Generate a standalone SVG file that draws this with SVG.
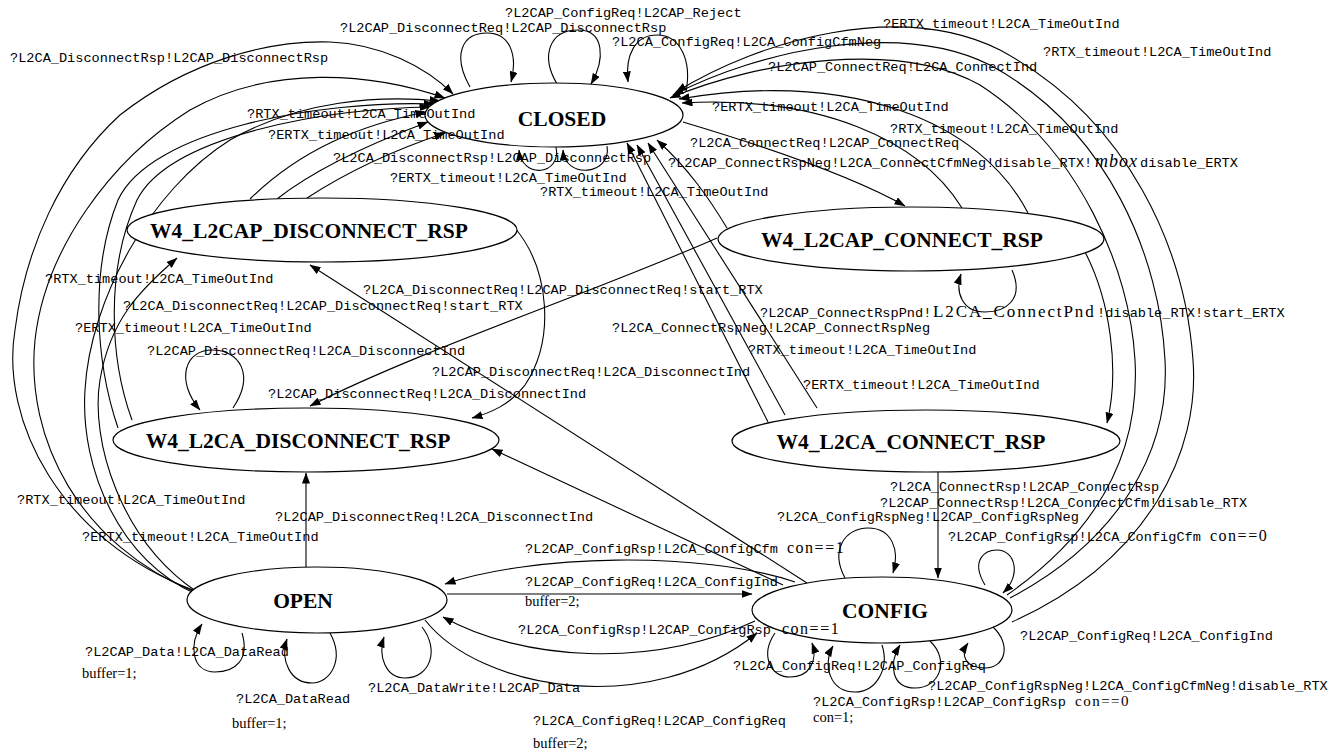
<svg xmlns="http://www.w3.org/2000/svg" width="1343" height="753" viewBox="0 0 1343 753">
<style>
.e{fill:none;stroke:#000;stroke-width:1.1}
.a{marker-end:url(#ah)}
.n ellipse{fill:#fff;stroke:#000;stroke-width:1.2}
.n text{font-family:"Liberation Serif",serif;font-weight:bold;font-size:21.5px;text-anchor:middle}
.l{font-family:"Liberation Mono",monospace;font-size:13.6px;fill:#000}
.s{font-family:"Liberation Serif",serif;font-size:14.5px;fill:#000}
.m{font-family:"Liberation Serif",serif;font-size:16px;letter-spacing:1.5px}
.p{font-family:"Liberation Serif",serif;font-size:17px;letter-spacing:1.9px}
.i{font-family:"Liberation Serif",serif;font-style:italic;font-size:18px;letter-spacing:1px}
</style>
<defs>
<marker id="ah" markerWidth="11" markerHeight="8" refX="10.5" refY="4" orient="auto" markerUnits="userSpaceOnUse"><path d="M0,0 L11,4 L0,8 z" fill="#000"/></marker>
</defs>
<rect width="1343" height="753" fill="#fff"/>
<g id="connectors">
<path class="e a" d="M193,590 C60,540 0,420 15,330 C25,250 60,170 120,115 C190,60 270,40 330,42 C380,44 425,66 453,94"/>
<path class="e a" d="M195,592 C80,545 25,440 35,340 C45,250 110,160 190,110 C270,65 370,72 445,98"/>
<path class="e a" d="M196,594 C120,560 80,470 85,390 C90,300 150,190 230,140 C300,100 380,95 440,101"/>
<path class="e a" d="M118,428 C95,360 90,270 118,200 C150,130 320,100 434,104"/>
<path class="e a" d="M132,420 C110,360 105,270 137,200 C170,135 330,108 430,107"/>
<path class="e a" d="M197,592 C120,540 90,440 100,380 C110,320 140,290 177,258"/>
<path class="e a" d="M250,199 C300,150 360,125 426,112"/>
<path class="e a" d="M277,199 C320,165 380,140 428,122"/>
<path class="e a" d="M307,198 C350,170 400,148 445,133"/>
<path class="e a" d="M470,87 C452,55 462,33 487,33 C510,33 518,55 511,82"/>
<path class="e a" d="M557,84 C540,55 550,30 578,30 C605,30 605,60 591,84"/>
<path class="e a" d="M686,92 C692,60 680,35 657,35 C635,35 625,55 628,82"/>
<path class="e a" d="M556,147 C562,175 522,180 519,150"/>
<path class="e a" d="M607,146 C612,175 565,180 563,150"/>
<path class="e a" d="M1012,622 C1150,560 1200,450 1193,360 C1185,250 1130,120 1000,50 C900,0 760,40 676,92"/>
<path class="e a" d="M1010,598 C1120,540 1170,450 1165,360 C1160,260 1110,130 990,65 C900,20 760,50 673,95"/>
<path class="e a" d="M1007,595 C1100,530 1140,450 1135,360 C1130,270 1080,150 980,85 C900,40 760,60 670,98"/>
<path class="e a" d="M683,122 C760,145 850,175 905,206"/>
<path class="e a" d="M962,208 C920,140 820,95 682,103"/>
<path class="e a" d="M1028,213 C980,120 850,70 679,99"/>
<path class="e a" d="M727,228 C710,200 690,170 657,140"/>
<path class="e a" d="M1085,252 C1110,300 1120,370 1107,423"/>
<path class="e a" d="M768,422 L627,143"/>
<path class="e a" d="M785,415 L637,145"/>
<path class="e a" d="M817,408 L648,143"/>
<path class="e a" d="M1012,270 C1025,300 1005,312 985,312 C962,312 955,292 961,274"/>
<path class="e a" d="M515,228 C550,270 555,340 525,385 C510,405 490,413 472,418"/>
<path class="e a" d="M717,238 C600,290 420,350 310,406"/>
<path class="e a" d="M807,583 L310,265"/>
<path class="e a" d="M783,585 L492,449"/>
<path class="e a" d="M233,408 C255,375 240,350 212,350 C185,350 175,380 200,410"/>
<path class="e a" d="M306,567 L306,473"/>
<path class="e a" d="M938,472 L938,578"/>
<path class="e a" d="M795,582 C700,550 530,555 445,584"/>
<path class="e a" d="M447,594 L752,594"/>
<path class="e a" d="M755,621 C650,670 520,660 443,617"/>
<path class="e a" d="M425,620 C480,690 650,720 757,633"/>
<path class="e a" d="M845,578 C830,550 845,528 868,528 C892,528 900,550 893,573"/>
<path class="e a" d="M985,585 C970,560 985,550 997,550 C1015,550 1022,575 1003,593"/>
<path class="e a" d="M993,627 C1012,645 1005,668 985,668 C965,668 960,655 968,643"/>
<path class="e a" d="M930,641 C950,660 940,688 915,688 C892,688 888,665 900,645"/>
<path class="e a" d="M775,633 C760,655 770,677 790,677 C810,677 818,660 812,643"/>
<path class="e a" d="M882,645 C890,670 875,692 855,692 C830,692 822,665 833,646"/>
<path class="e a" d="M242,633 C250,660 235,672 215,672 C192,672 188,645 202,624"/>
<path class="e a" d="M330,633 C345,660 330,683 312,683 C290,683 280,660 287,639"/>
<path class="e a" d="M422,627 C440,650 430,678 405,678 C385,678 378,655 384,637"/>
</g>
<g id="n_closed" class="n"><ellipse cx="554" cy="115" rx="129" ry="32"/><text x="562" y="126">CLOSED</text></g>
<g id="n_w4_l2cap_disconnect_rsp" class="n"><ellipse cx="322" cy="230" rx="195" ry="32"/><text x="309" y="238">W4_L2CAP_DISCONNECT_RSP</text></g>
<g id="n_w4_l2cap_connect_rsp" class="n"><ellipse cx="911" cy="239" rx="193" ry="32"/><text x="902" y="247">W4_L2CAP_CONNECT_RSP</text></g>
<g id="n_w4_l2ca_disconnect_rsp" class="n"><ellipse cx="306" cy="440" rx="193" ry="32"/><text x="298" y="448">W4_L2CA_DISCONNECT_RSP</text></g>
<g id="n_w4_l2ca_connect_rsp" class="n"><ellipse cx="926" cy="441" rx="194" ry="31"/><text x="911" y="449">W4_L2CA_CONNECT_RSP</text></g>
<g id="n_open" class="n"><ellipse cx="317" cy="600" rx="130" ry="33"/><text x="303" y="608">OPEN</text></g>
<g id="n_config" class="n"><ellipse cx="882" cy="610" rx="130" ry="33"/><text x="885" y="618">CONFIG</text></g>
<g id="labels">
<text class="l" x="505" y="17">?L2CAP_ConfigReq!L2CAP_Reject</text>
<text class="l" x="340" y="32">?L2CAP_DisconnectReq!L2CAP_DisconnectRsp</text>
<text class="l" x="612" y="46">?L2CA_ConfigReq!L2CA_ConfigCfmNeg</text>
<text class="l" x="10" y="62">?L2CA_DisconnectRsp!L2CAP_DisconnectRsp</text>
<text class="l" x="883" y="28">?ERTX_timeout!L2CA_TimeOutInd</text>
<text class="l" x="1043" y="56">?RTX_timeout!L2CA_TimeOutInd</text>
<text class="l" x="768" y="71">?L2CAP_ConnectReq!L2CA_ConnectInd</text>
<text class="l" x="712" y="111">?ERTX_timeout!L2CA_TimeOutInd</text>
<text class="l" x="890" y="133">?RTX_timeout!L2CA_TimeOutInd</text>
<text class="l" x="690" y="147">?L2CA_ConnectReq!L2CAP_ConnectReq</text>
<text class="l" x="668" y="167">?L2CAP_ConnectRspNeg!L2CA_ConnectCfmNeg!disable_RTX!<tspan x="1095" class="i">mbox</tspan><tspan x="1140">disable_ERTX</tspan></text>
<text class="l" x="247" y="118">?RTX_timeout!L2CA_TimeOutInd</text>
<text class="l" x="268" y="139">?ERTX_timeout!L2CA_TimeOutInd</text>
<text class="l" x="333" y="162">?L2CA_DisconnectRsp!L2CAP_DisconnectRsp</text>
<text class="l" x="390" y="182">?ERTX_timeout!L2CA_TimeOutInd</text>
<text class="l" x="540" y="196">?RTX_timeout!L2CA_TimeOutInd</text>
<text class="l" x="45" y="283">?RTX_timeout!L2CA_TimeOutInd</text>
<text class="l" x="363" y="294">?L2CA_DisconnectReq!L2CAP_DisconnectReq!start_RTX</text>
<text class="l" x="123" y="310">?L2CA_DisconnectReq!L2CAP_DisconnectReq!start_RTX</text>
<text class="l" x="75" y="332">?ERTX_timeout!L2CA_TimeOutInd</text>
<text class="l" x="147" y="355">?L2CAP_DisconnectReq!L2CA_DisconnectInd</text>
<text class="l" x="432" y="376">?L2CAP_DisconnectReq!L2CA_DisconnectInd</text>
<text class="l" x="268" y="398">?L2CAP_DisconnectReq!L2CA_DisconnectInd</text>
<text class="l" x="760" y="317">?L2CAP_ConnectRspPnd!<tspan x="933" class="p">L2CA_ConnectPnd</tspan><tspan x="1097">!disable_RTX!start_ERTX</tspan></text>
<text class="l" x="612" y="332">?L2CA_ConnectRspNeg!L2CAP_ConnectRspNeg</text>
<text class="l" x="748" y="354">?RTX_timeout!L2CA_TimeOutInd</text>
<text class="l" x="803" y="389">?ERTX_timeout!L2CA_TimeOutInd</text>
<text class="l" x="17" y="504">?RTX_timeout!L2CA_TimeOutInd</text>
<text class="l" x="275" y="521">?L2CAP_DisconnectReq!L2CA_DisconnectInd</text>
<text class="l" x="82" y="541">?ERTX_timeout!L2CA_TimeOutInd</text>
<text class="l" x="890" y="491">?L2CA_ConnectRsp!L2CAP_ConnectRsp</text>
<text class="l" x="880" y="507">?L2CAP_ConnectRsp!L2CA_ConnectCfm!disable_RTX</text>
<text class="l" x="777" y="521">?L2CA_ConfigRspNeg!L2CAP_ConfigRspNeg</text>
<text class="l" x="948" y="541">?L2CAP_ConfigRsp!L2CA_ConfigCfm<tspan x="1210" class="m">con==0</tspan></text>
<text class="l" x="525" y="553">?L2CAP_ConfigRsp!L2CA_ConfigCfm<tspan x="787" class="m">con==1</tspan></text>
<text class="l" x="525" y="586">?L2CAP_ConfigReq!L2CA_ConfigInd</text>
<text class="s" x="525" y="606">buffer=2;</text>
<text class="l" x="518" y="634">?L2CA_ConfigRsp!L2CAP_ConfigRsp<tspan x="782" class="m">con==1</tspan></text>
<text class="l" x="1020" y="640">?L2CAP_ConfigReq!L2CA_ConfigInd</text>
<text class="l" x="733" y="670">?L2CA_ConfigReq!L2CAP_ConfigReq</text>
<text class="l" x="928" y="690">?L2CAP_ConfigRspNeg!L2CA_ConfigCfmNeg!disable_RTX</text>
<text class="l" x="813" y="706">?L2CA_ConfigRsp!L2CAP_ConfigRsp<tspan x="1075" class="m" style="font-size:15px">con==0</tspan></text>
<text class="s" x="813" y="722">con=1;</text>
<text class="l" x="85" y="656">?L2CAP_Data!L2CA_DataRead</text>
<text class="s" x="82" y="678">buffer=1;</text>
<text class="l" x="236" y="703">?L2CA_DataRead</text>
<text class="s" x="232" y="728">buffer=1;</text>
<text class="l" x="368" y="692">?L2CA_DataWrite!L2CAP_Data</text>
<text class="l" x="533" y="725">?L2CA_ConfigReq!L2CAP_ConfigReq</text>
<text class="s" x="533" y="748">buffer=2;</text>
</g>
</svg>
